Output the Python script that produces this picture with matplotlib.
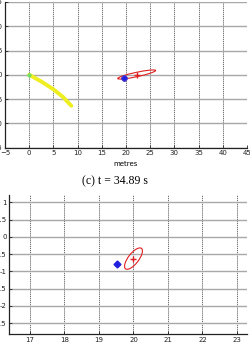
import matplotlib
matplotlib.use("Agg")
import matplotlib.pyplot as plt
from matplotlib.patches import Ellipse

# ---- data (top panel, metres) ----
track_x = [0.0, 2.5, 5.0, 7.0, 8.7]
track_y = [0.0, -1.4, -3.0, -4.6, -6.4]
top_est = (22.2, 0.05)          # red + estimate
top_ell = (8.0, 0.9, 12.0)      # width, height, angle
top_true = (19.6, -0.6)         # blue diamond
top_xticks = [-5, 0, 5, 10, 15, 20, 25, 30, 35, 40, 45]
top_yticks = [-15, -10, -5, 0, 5, 10, 15]
caption = "(c) t = 34.89 s"
xlabel = "metres"

# ---- data (bottom panel, zoomed) ----
bot_est = (20.0, -0.63)
bot_ell = (0.75, 0.3, 52.0)
bot_true = (19.53, -0.8)
bot_xticks = [17, 18, 19, 20, 21, 22, 23]
bot_yticks = [-2.5, -2, -1.5, -1, -0.5, 0, 0.5, 1]

W, H = 250, 344
fig = plt.figure(figsize=(W / 100, H / 100), dpi=100)
fig.patch.set_facecolor("white")


def px_axes(l, r, t, b):
    return fig.add_axes([l / W, (H - b) / H, (r - l) / W, (b - t) / H])


def style(ax):
    for s in ("top", "right"):
        ax.spines[s].set_visible(False)
    for s in ("left", "bottom"):
        ax.spines[s].set_linewidth(0.9)
        ax.spines[s].set_color("#222222")
    ax.tick_params(direction="in", length=2, width=0.6, labelsize=5,
                   colors="#222222", pad=2)
    ax.xaxis.grid(True, color="#555555", lw=0.6, ls=(0, (1.5, 1)))
    ax.yaxis.grid(True, color="#a8a8a8", lw=1.0)
    ax.set_axisbelow(True)


# top panel
ax1 = px_axes(5, 247, 2, 147.5)
style(ax1)
ax1.set_xlim(-5, 45)
ax1.set_ylim(-15, 15)
ax1.set_xticks(top_xticks)
ax1.set_yticks(top_yticks)
ax1.plot(track_x, track_y, color="#eeee20", lw=2.8, solid_capstyle="round")
ax1.plot(track_x[0], track_y[0], "o", color="#70e060", ms=2)
ax1.add_patch(Ellipse(top_est, top_ell[0], top_ell[1], angle=top_ell[2],
                      fill=False, ec="#e02020", lw=0.8))
ax1.plot(*top_est, "+", color="#e02020", ms=5, mew=1.0)
ax1.plot(*top_true, "D", color="#2020e0", ms=3)
ax1.plot(*top_true, "o", mfc="none", mec="#6040c0", ms=4, mew=0.6)
ax1.set_xlabel(xlabel, fontsize=5, labelpad=3.5)
fig.text(114.5 / W, (H - 181) / H, caption, ha="center", va="center",
         fontsize=8.5, family="Liberation Serif")

# bottom panel
ax2 = px_axes(9.3, 247, 195, 334.3)
style(ax2)
ax2.set_xlim(16.4, 23.29)
ax2.set_ylim(-2.82, 1.21)
ax2.set_xticks(bot_xticks)
ax2.set_yticks(bot_yticks)
ax2.set_yticklabels(["-2.5", "-2", "-1.5", "-1", "-0.5", "0", "0.5", "1"])
ax2.add_patch(Ellipse(bot_est, bot_ell[0], bot_ell[1], angle=bot_ell[2],
                      fill=False, ec="#e02020", lw=0.8))
ax2.plot(*bot_est, "+", color="#e02020", ms=5, mew=1.0)
ax2.plot(*bot_true, "D", color="#2020e0", ms=3.5)

fig.savefig("out.png", dpi=100)
